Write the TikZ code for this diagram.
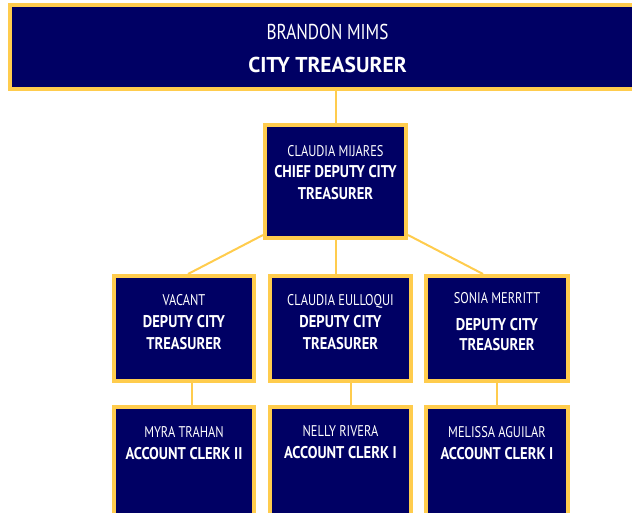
\documentclass[tikz,border=0pt]{standalone}
\usepackage{fontspec}
\setmainfont{PT Sans}[UprightFeatures={FakeStretch=0.8}, BoldFeatures={FakeStretch=0.855}]
\newfontfamily\widefont{PT Sans}[UprightFeatures={FakeStretch=0.8}, BoldFeatures={FakeStretch=1.0}]
\usetikzlibrary{positioning}
\definecolor{navy}{RGB}{0,0,100}
\definecolor{gold}{RGB}{255,204,77}
\tikzset{
	box/.style={draw=gold, fill=navy, line width=4pt, inner sep=0pt},
	who/.style={text=white, align=center, inner sep=0pt, font=\fontsize{17}{21.5}\selectfont},
	link/.style={draw=gold, line width=2pt},
}
\newcommand{\namefont}{\fontsize{15.5}{21.5}\selectfont}
\newcommand{\postfont}{\fontsize{17}{21.5}\selectfont\bfseries}

\begin{document}
\begin{tikzpicture}[x=1pt,y=-1pt]
	\useasboundingbox (0,0) rectangle (632,512);
	%BOXES
	\node[box, minimum width=635pt, minimum height=84pt] (treas) at (327.5,47) {};
	\node[box, minimum width=141pt, minimum height=113pt] (chief) at (335.5,181.5) {};
	\node[box, minimum width=140pt, minimum height=105pt] (dep1) at (184,328.5) {};
	\node[box, minimum width=141pt, minimum height=105pt] (dep2) at (340.5,328.5) {};
	\node[box, minimum width=142pt, minimum height=105pt] (dep3) at (497,328.5) {};
	\node[box, minimum width=140pt, minimum height=120pt] (clerk1) at (184,467) {};
	\node[box, minimum width=141pt, minimum height=120pt] (clerk2) at (340.5,467) {};
	\node[box, minimum width=142pt, minimum height=120pt] (clerk3) at (497,467) {};
	
	%TEXTS
	\node[who, font=\widefont\fontsize{21.5}{32.5}\selectfont, below=21pt of treas.north] (treas-t) {BRANDON MIMS\\ \bfseries CITY TREASURER};
	\node[who, below=22pt of chief.north] (chief-t) {\namefont CLAUDIA MIJARES\\ \postfont CHIEF DEPUTY CITY\\ \postfont TREASURER};
	\node[who, below=20.5pt of dep1.north] (dep1-t) {\namefont VACANT\\[0.5pt] \postfont DEPUTY CITY\\[0.5pt] \postfont TREASURER};
	\node[who, below=20.5pt of dep2.north] (dep2-t) {\namefont CLAUDIA EULLOQUI\\[0.5pt] \postfont DEPUTY CITY\\[0.5pt] \postfont TREASURER};
	\node[who, below=18pt of dep3.north] (dep3-t) {\namefont SONIA MERRITT\\[5.5pt] \postfont DEPUTY CITY\\[-1.5pt] \postfont TREASURER};
	\node[who, below=21.5pt of clerk1.north] (clerk1-t) {\namefont MYRA TRAHAN\\ \postfont ACCOUNT CLERK II};
	\node[who, below=20.5pt of clerk2.north] (clerk2-t) {\namefont NELLY RIVERA\\ \postfont ACCOUNT CLERK I};
	\node[who, below=21.5pt of clerk3.north] (clerk3-t) {\namefont MELISSA AGUILAR\\ \postfont ACCOUNT CLERK I};
	
	%LINKS
	\draw[link] (treas.south -| chief.north) -- (chief.north);
	\draw[link] ([yshift=5pt]chief.south west) -- ([xshift=4pt]dep1.north);
	\draw[link] (chief.south) -- (chief.south |- dep2.north);
	\draw[link] ([yshift=5pt]chief.south east) -- ([xshift=-14pt]dep3.north);
	\draw[link] ([xshift=8pt]dep1.south) coordinate (l1) -- (l1 |- clerk1.north);
	\draw[link] ([xshift=10.5pt]dep2.south) coordinate (l2) -- (l2 |- clerk2.north);
	\draw[link] (dep3.south) -- (clerk3.north);
\end{tikzpicture}
\end{document}
